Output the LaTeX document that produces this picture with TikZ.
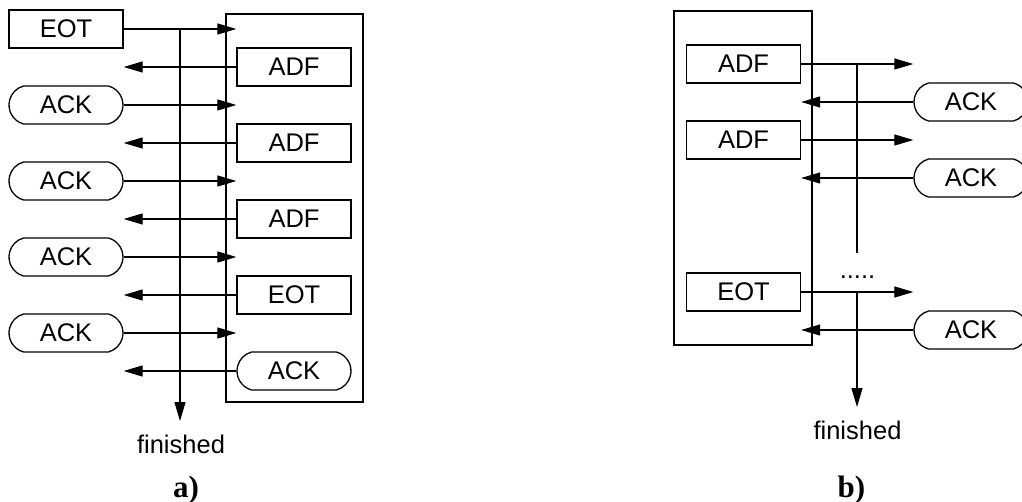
\documentclass[tikz,border=0pt]{standalone}
\usepackage{fontspec}
\setmainfont{Liberation Sans}
\newfontfamily\labfont{Liberation Serif}
\usetikzlibrary{arrows.meta,shapes.misc}
\tikzset{
  txt/.style={font=\fontsize{25.5}{30}\selectfont},
  msg/.style={draw, line width=1.3pt, minimum width=114pt, minimum height=38pt, inner sep=0pt, txt},
  ackbox/.style={msg, rounded rectangle, rounded rectangle arc length=150},
  frame/.style={draw, line width=1.3pt, inner sep=0pt},
  conn/.style={line width=1.2pt, -{Triangle[length=19pt,width=11pt]}},
  plain/.style={line width=1.2pt},
  sublabel/.style={anchor=base, inner sep=0pt, font=\labfont\bfseries\fontsize{31}{36}\selectfont},
  endtext/.style={anchor=base, inner sep=0pt, txt},
}
\begin{document}
\begin{tikzpicture}[x=1pt,y=-1pt]
\clip (0,0) rectangle (1022,502);
\fill[white] (0,0) rectangle (1022,502);
% ---------- panel a ----------
\node[frame, minimum width=137pt, minimum height=388pt] (boxA) at (294.5,208) {};
\node[msg] (eotA) at (66,29) {EOT};
\node[msg] (adfA1) at (294,67) {ADF};
\node[ackbox] (ackA1) at (66,105) {ACK};
\node[msg] (adfA2) at (294,143) {ADF};
\node[ackbox] (ackA2) at (66,181) {ACK};
\node[msg] (adfA3) at (294,219) {ADF};
\node[ackbox] (ackA3) at (66,257) {ACK};
\node[msg] (eotA2) at (294,295) {EOT};
\node[ackbox] (ackA4) at (66,333) {ACK};
\node[ackbox] (ackA5) at (294,371) {ACK};
\node[endtext] (finA) at (181,453) {finished};
\node[sublabel] (labA) at (186,497) {a)};
\coordinate (vtopA) at (180,29);
\coordinate (vendA) at (180,421);
\draw[conn] (vtopA) -- (vendA);
\draw[conn] (eotA.east) -- (eotA.east -| adfA1.west);
\draw[conn] (ackA1.east) -- (ackA1.east -| adfA1.west);
\draw[conn] (ackA2.east) -- (ackA2.east -| adfA1.west);
\draw[conn] (ackA3.east) -- (ackA3.east -| adfA1.west);
\draw[conn] (ackA4.east) -- (ackA4.east -| adfA1.west);
\draw[conn] (adfA1.west) -- (adfA1.west -| eotA.east);
\draw[conn] (adfA2.west) -- (adfA2.west -| eotA.east);
\draw[conn] (adfA3.west) -- (adfA3.west -| eotA.east);
\draw[conn] (eotA2.west) -- (eotA2.west -| eotA.east);
\draw[conn] (ackA5.west) -- (ackA5.west -| eotA.east);
% ---------- panel b ----------
\node[frame, minimum width=138pt, minimum height=334pt] (boxB) at (743,178) {};
\node[msg] (adfB1) at (743.5,64) {ADF};
\node[ackbox] (ackB1) at (971,102) {ACK};
\node[msg] (adfB2) at (743.5,140) {ADF};
\node[ackbox] (ackB2) at (971,178) {ACK};
\node[msg] (eotB) at (743.5,292) {EOT};
\node[ackbox] (ackB3) at (971,330) {ACK};
\node[endtext] (dotsB) at (857.5,279) {.....};
\node[endtext] (finB) at (857.5,439) {finished};
\node[sublabel] (labB) at (851.5,497) {b)};
\coordinate (vtopB) at (857,64);
\coordinate (vgapB) at (857,253);
\coordinate (vresB) at (857,292);
\coordinate (vendB) at (857,407);
\draw[plain] (vtopB) -- (vgapB);
\draw[conn] (vresB) -- (vendB);
\draw[conn] (adfB1.east) -- (adfB1.east -| ackB1.west);
\draw[conn] (adfB2.east) -- (adfB2.east -| ackB1.west);
\draw[conn] (eotB.east) -- (eotB.east -| ackB1.west);
\draw[conn] (ackB1.west) -- (ackB1.west -| adfB1.east);
\draw[conn] (ackB2.west) -- (ackB2.west -| adfB1.east);
\draw[conn] (ackB3.west) -- (ackB3.west -| adfB1.east);
\end{tikzpicture}
\end{document}
